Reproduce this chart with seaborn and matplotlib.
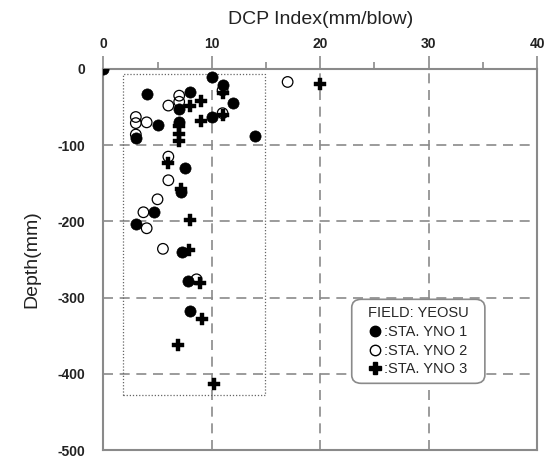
import matplotlib
matplotlib.use("Agg")
import matplotlib.pyplot as plt
from matplotlib.patches import Rectangle, FancyBboxPatch
from matplotlib.lines import Line2D
import seaborn as sns
import pandas as pd

# STA. YNO 1 (filled circles)
x1 = [0, 10, 11, 4, 8, 12, 7, 10, 5, 7, 3, 14, 7.5, 7.2, 4.7, 3, 7.3, 7.8, 8]
d1 = [0, -10, -21, -33, -30, -45, -53, -63, -74, -70, -90, -88, -130, -162, -188, -203, -240, -278, -317]
# STA. YNO 2 (open circles)
x2 = [17, 7, 7, 6, 3, 3, 4, 3, 11, 11, 6, 6, 5, 3.7, 4, 5.5, 8.6]
d2 = [-17, -35, -43, -48, -63, -71, -70, -86, -28, -58, -115, -146, -171, -188, -209, -236, -276]
# STA. YNO 3 (crosses)
x3 = [20, 11, 9, 8, 9, 7, 7, 7, 11, 6, 7.2, 8, 7.9, 8.9, 9.1, 6.9, 10.2]
d3 = [-20, -31, -42, -49, -68, -75, -85, -95, -60, -124, -157, -198, -238, -281, -328, -362, -414]

labels = [":STA. YNO 1", ":STA. YNO 2", ":STA. YNO 3"]
x_ticks = [0, 10, 20, 30, 40]
y_ticks = [0, -100, -200, -300, -400, -500]
box_x = [1.8, 14.9]
box_d = [-7, -428]

sns.set_style("white")
plt.rcParams["font.family"] = ["Liberation Sans", "DejaVu Sans"]
plt.rcParams["axes.unicode_minus"] = False

df1 = pd.DataFrame({"x": x1, "d": d1})
df2 = pd.DataFrame({"x": x2, "d": d2})
df3 = pd.DataFrame({"x": x3, "d": d3})

fig = plt.figure(figsize=(5.52, 4.58), dpi=100)
# axes box in pixels: left 103, right 537, top 69, bottom 450
ax = fig.add_axes([103.3 / 552, 1 - 450 / 458, 433.7 / 552, 381 / 458])

grey = "#8a8a8a"

# dotted box around the data cloud
ax.add_patch(Rectangle((box_x[0], box_d[1]), box_x[1] - box_x[0], box_d[0] - box_d[1],
                       fill=False, linestyle=(0, (1, 1.5)), lw=0.9, edgecolor="#666", zorder=1))

sns.scatterplot(data=df1, x="x", y="d", ax=ax, marker="o", s=65, color="black",
                edgecolor="black", linewidth=0.5, zorder=3)
sns.scatterplot(data=df2, x="x", y="d", ax=ax, marker="o", s=58, facecolor="none",
                edgecolor="black", linewidth=0.9, zorder=4)
sns.scatterplot(data=df3, x="x", y="d", ax=ax, marker="P", s=80, color="black",
                edgecolor="black", linewidth=0.3, zorder=5)

ax.set_xlim(0, 40)
ax.set_ylim(-500, 0)
ax.set_xticks(x_ticks)
ax.set_xticks([5, 15, 25, 35], minor=True)
ax.set_yticks(y_ticks)
ax.xaxis.tick_top()
ax.xaxis.set_label_position("top")
ax.tick_params(axis="both", which="major", direction="out", length=9.5, width=1.2,
               color=grey, labelsize=10, pad=3.5)
ax.tick_params(axis="x", which="minor", direction="out", length=5, width=1.2, color=grey)
for lab in ax.get_xticklabels() + ax.get_yticklabels():
    lab.set_fontweight("bold")
    lab.set_color("#222")

ax.grid(True, which="major", linestyle=(0, (6, 4)), color=grey, lw=1.2)
for sp in ax.spines.values():
    sp.set_color(grey)
    sp.set_linewidth(1.5)

ax.set_xlabel("DCP Index(mm/blow)", fontsize=14, color="#222", labelpad=9)
ax.set_ylabel("Depth(mm)", fontsize=14, color="#222", labelpad=12)

# rounded legend frame
ax.add_patch(FancyBboxPatch((0.5728, 0.175), 0.307, 0.2205, transform=ax.transAxes,
                            boxstyle="round,pad=0,rounding_size=0.022", facecolor="white",
                            edgecolor=grey, lw=1.2, zorder=6))
handles = [
    Line2D([], [], marker="o", ls="", color="black", markersize=7.5),
    Line2D([], [], marker="o", ls="", markerfacecolor="none", markeredgecolor="black", markersize=7.5),
    Line2D([], [], marker="P", ls="", color="black", markersize=8.5),
]
leg = ax.legend(handles, labels, title="FIELD: YEOSU", loc="center",
                bbox_to_anchor=(0.7266, 0.285), fontsize=10.5, title_fontsize=10.5,
                frameon=False, handlelength=0.8, handletextpad=0.25, labelspacing=0.32,
                borderpad=0, borderaxespad=0)
leg.set_zorder(7)

fig.savefig("out.png", dpi=100)
